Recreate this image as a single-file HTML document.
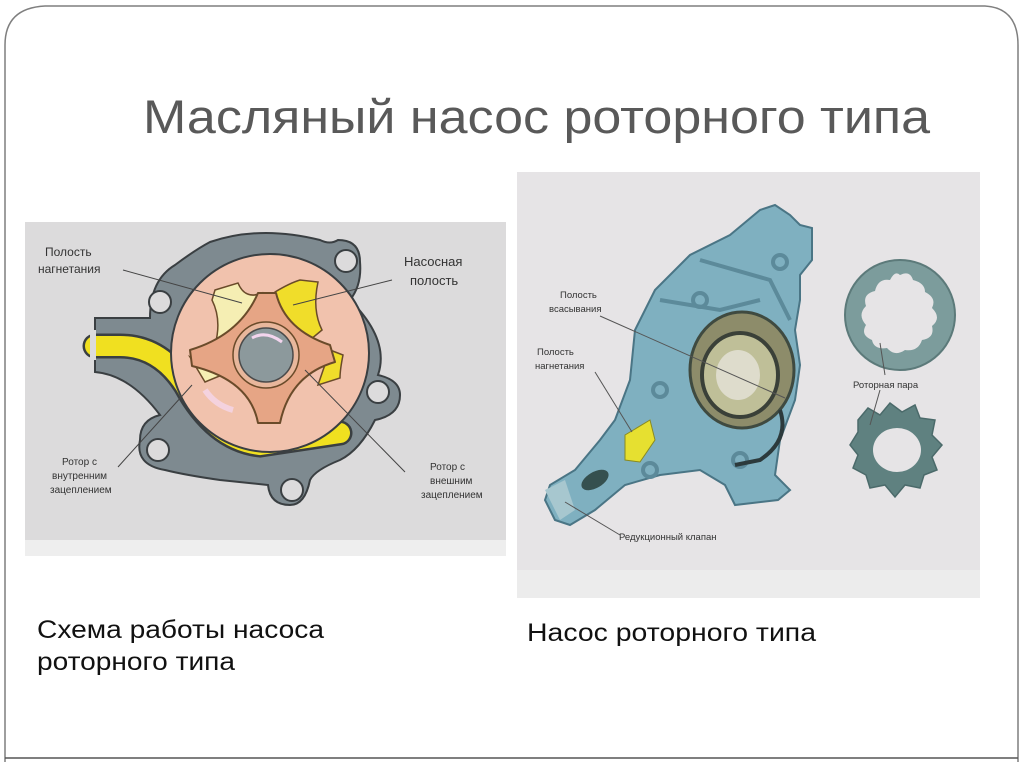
<!DOCTYPE html>
<html><head><meta charset="utf-8"><style>
html,body{margin:0;padding:0;background:#fff;}
svg{display:block;}
</style></head><body>
<svg width="1024" height="767" viewBox="0 0 1024 767" xmlns="http://www.w3.org/2000/svg">
<rect x="0" y="0" width="1024" height="767" fill="#fff"/>
<path d="M5,762 L5,45 Q5,8 45,6 L985,6 Q1018,8 1018,45 L1018,762" fill="none" stroke="#7f7f7f" stroke-width="1.5"/>
<line x1="5" y1="758" x2="1018" y2="758" stroke="#555" stroke-width="1.5"/>
<text x="143" y="133" font-family="Liberation Sans, sans-serif" font-size="47" fill="#595959" textLength="787" lengthAdjust="spacingAndGlyphs">Масляный насос роторного типа</text>

<!-- LEFT PANEL -->
<rect x="25" y="222" width="481" height="323" fill="#dcdbdc"/>
<rect x="25" y="540" width="481" height="16" fill="#eeeeee"/>
<g fill="#7e8a90" stroke="#3a3f42" stroke-width="2">
<path d="M95,318 L150,318 Q150,280 175,265 Q195,250 210,242 Q260,225 320,240 Q330,245 338,240 Q360,240 360,262 Q362,285 350,300 Q390,340 378,375 Q400,380 400,395 Q400,415 375,420 Q360,450 340,460 Q315,470 310,480 Q305,505 290,505 Q270,505 268,485 L220,480 Q185,475 165,470 Q135,465 140,440 Q140,420 160,415 Q130,375 95,372 Z"/>
</g>
<g fill="#dcdbdc" stroke="#3a3f42" stroke-width="2">
<circle cx="160" cy="302" r="11"/>
<circle cx="346" cy="261" r="11"/>
<circle cx="378" cy="392" r="11"/>
<circle cx="158" cy="450" r="11"/>
<circle cx="292" cy="490" r="11"/>
</g>
<path d="M95,346 L120,346 Q160,346 185,385 Q215,440 260,445 L340,433" fill="none" stroke="#3a3f42" stroke-width="25" stroke-linecap="round"/>
<path d="M95,346 L120,346 Q160,346 185,385 Q215,440 260,445 L340,433" fill="none" stroke="#f0e020" stroke-width="20" stroke-linecap="round"/>
<rect x="90" y="330" width="6" height="30" fill="#dcdbdc"/>
<circle cx="270" cy="353" r="99" fill="#f1c2ad" stroke="#3a3f42" stroke-width="2"/>
<path d="M215,290 L238,283 Q245,300 262,293 L250,330 L215,345 Q222,320 212,300 Z" fill="#f5eeb3" stroke="#6a4b2a" stroke-width="1.5"/>
<path d="M275,292 Q290,283 300,280 L318,282 Q312,310 322,330 L310,340 L280,322 Z" fill="#f0dd2a" stroke="#6a4b2a" stroke-width="1.5"/>
<path d="M330,350 L343,355 Q340,370 340,378 L318,385 Z" fill="#f0dd2a" stroke="#6a4b2a" stroke-width="1.5"/>
<path d="M190,357 L205,382 L222,375 Z" fill="#f5eeb3" stroke="#6a4b2a" stroke-width="1.5"/>
<path d="M258,293 L276,293 Q285,330 330,345 L335,362 Q290,375 280,423 L258,423 Q250,380 192,366 L190,350 Q240,335 258,293 Z" fill="#e6a585" stroke="#6a4b2a" stroke-width="2" stroke-linejoin="round"/>
<circle cx="266" cy="355" r="33" fill="#e8b79c" stroke="#6a4b2a" stroke-width="1.5"/>
<circle cx="266" cy="355" r="27" fill="#8c999c" stroke="#4a4a4a" stroke-width="1.5"/>
<path d="M252,338 Q266,330 282,342" fill="none" stroke="#f3d5ee" stroke-width="3"/>
<path d="M205,390 Q215,405 233,410" fill="none" stroke="#f4d2de" stroke-width="6"/>
<g stroke="#444" stroke-width="1" fill="none">
<line x1="123" y1="270" x2="242" y2="303"/>
<line x1="392" y1="280" x2="293" y2="305"/>
<line x1="118" y1="467" x2="192" y2="385"/>
<line x1="405" y1="472" x2="305" y2="370"/>
</g>
<g font-family="Liberation Sans, sans-serif" fill="#333">
<text x="45" y="256" font-size="12">Полость</text>
<text x="38" y="273" font-size="12">нагнетания</text>
<text x="404" y="266" font-size="13">Насосная</text>
<text x="410" y="285" font-size="13">полость</text>
<text x="62" y="465" font-size="10">Ротор с</text>
<text x="52" y="479" font-size="10">внутренним</text>
<text x="50" y="493" font-size="10">зацеплением</text>
<text x="430" y="470" font-size="10">Ротор с</text>
<text x="430" y="484" font-size="10">внешним</text>
<text x="421" y="498" font-size="10">зацеплением</text>
</g>

<!-- RIGHT PANEL -->
<rect x="517" y="172" width="463" height="400" fill="#e6e4e6"/>
<rect x="517" y="570" width="463" height="28" fill="#ececec"/>
<path d="M760,210 L775,205 L790,215 L800,225 L812,228 L812,260 L800,275 L800,300 L795,330 L800,365 L795,400 L780,440 L775,475 L790,490 L778,500 L735,505 L725,485 L700,470 L660,475 L625,485 L595,510 L570,525 L555,520 L545,500 L550,485 L575,470 L600,440 L615,420 L630,380 L635,330 L655,290 L690,255 L730,235 Z" fill="#7fb0c0" stroke="#4a7585" stroke-width="2"/>
<g fill="none" stroke="#5c8a9a" stroke-width="4">
<path d="M700,260 L770,280 L790,320"/>
<path d="M660,300 L720,310 L760,300"/>
<circle cx="660" cy="390" r="7"/>
<circle cx="700" cy="300" r="7"/>
<circle cx="780" cy="262" r="7"/>
<circle cx="650" cy="470" r="7"/>
<circle cx="740" cy="460" r="7"/>
</g>
<ellipse cx="742" cy="370" rx="52" ry="58" fill="#8d8c6a" stroke="#3f4a40" stroke-width="3"/>
<ellipse cx="740" cy="375" rx="38" ry="42" fill="#bfbf98" stroke="#3a4038" stroke-width="4"/>
<ellipse cx="738" cy="375" rx="22" ry="25" fill="#dedccc"/>
<path d="M780,410 Q790,440 760,460 L735,465" fill="none" stroke="#2c3a3c" stroke-width="4"/>
<path d="M625,435 L650,420 L655,440 L640,462 L625,460 Z" fill="#e6e030" stroke="#8a8a20" stroke-width="1"/>
<ellipse cx="595" cy="480" rx="15" ry="8" fill="#35504f" transform="rotate(-30 595 480)"/>
<path d="M545,490 L565,480 L575,510 L560,520 Z" fill="#a7c7cf"/>
<circle cx="900" cy="315" r="55" fill="#7c9c9c" stroke="#5c7a7a" stroke-width="2"/>
<path d="M900,275 Q910,270 913,280 Q925,283 925,292 Q937,298 932,308 Q942,318 932,326 Q935,338 922,340 Q918,352 905,350 Q895,357 887,348 Q874,350 872,340 Q860,335 866,325 Q857,315 866,306 Q862,294 875,291 Q878,278 890,280 Q895,270 900,275 Z" fill="#e6e4e6"/>
<path d="M858,420 L868,408 L880,415 L890,403 L902,412 L915,405 L920,418 L935,420 L932,435 L942,445 L932,457 L937,470 L924,475 L920,488 L905,485 L895,497 L885,485 L870,488 L866,475 L853,468 L858,455 L850,445 L858,432 Z" fill="#5f8180" stroke="#4b6a6a" stroke-width="1.5"/>
<ellipse cx="897" cy="450" rx="24" ry="22" fill="#e6e4e6"/>
<g stroke="#555" stroke-width="1" fill="none">
<line x1="600" y1="316" x2="785" y2="398"/>
<line x1="595" y1="372" x2="632" y2="432"/>
<line x1="565" y1="502" x2="620" y2="535"/>
<line x1="880" y1="343" x2="885" y2="375"/>
<line x1="880" y1="390" x2="870" y2="425"/>
</g>
<g font-family="Liberation Sans, sans-serif" fill="#333" font-size="9.5">
<text x="560" y="298">Полость</text>
<text x="549" y="312">всасывания</text>
<text x="537" y="355">Полость</text>
<text x="535" y="369">нагнетания</text>
<text x="853" y="388">Роторная пара</text>
<text x="619" y="540">Редукционный клапан</text>
</g>

<g font-family="Liberation Sans, sans-serif" fill="#111" font-size="25">
<text x="37" y="638" textLength="287" lengthAdjust="spacingAndGlyphs">Схема работы насоса</text>
<text x="37" y="670" textLength="198" lengthAdjust="spacingAndGlyphs">роторного типа</text>
<text x="527" y="641" textLength="289" lengthAdjust="spacingAndGlyphs">Насос роторного типа</text>
</g>
</svg>
</body></html>
